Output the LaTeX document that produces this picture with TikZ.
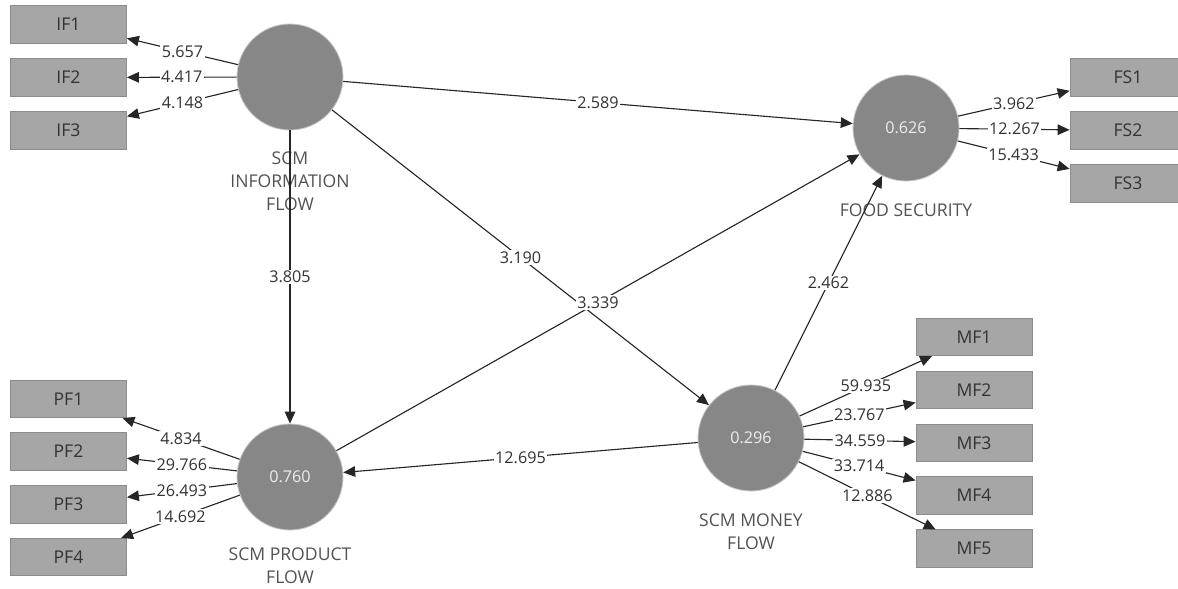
\documentclass[tikz,border=0pt]{standalone}
\usepackage{fontspec}
\setmainfont{Open Sans}
\usetikzlibrary{arrows.meta,positioning}
\definecolor{plsring}{HTML}{878787}
\definecolor{plsbox}{HTML}{A6A6A6}
\definecolor{plsedge}{HTML}{8C8C8C}
\definecolor{plsink}{HTML}{333333}
\definecolor{plsvalue}{HTML}{EDEDED}

\begin{document}
\begin{tikzpicture}[x=0.025cm, y=-0.025cm,
  font=\fontsize{11.5}{17}\selectfont,
  construct/.style={circle, fill=plsring, draw=black!22, line width=0.6pt, minimum size=2.65cm,
                    inner sep=0pt, text=plsvalue},
  indicator/.style={rectangle, fill=plsbox, draw=plsedge, line width=0.6pt, minimum width=2.9cm,
                    minimum height=0.93cm, inner sep=0pt, text=plsink, font=\fontsize{12.5}{15}\selectfont},
  cname/.style={align=center, text=plsink!85, font=\fontsize{12.5}{16.5}\selectfont},
  link/.style={draw=black!85, line width=0.8pt, -{Triangle[length=8.5pt,width=7.5pt]}},
  coef/.style={fill=white, inner sep=1pt, text=plsink}]
\useasboundingbox (0,0) rectangle (1178,589);
% constructs
\node[construct] (info)  at (290,77)  {};
\node[construct] (food)  at (906,128) {0.626};
\node[construct] (prod)  at (290,477) {0.760};
\node[construct] (money) at (751,438) {0.296};
\node[cname] at (290,181)   {SCM\\INFORMATION\\FLOW};
\node[cname] at (906,210)   {FOOD SECURITY};
\node[cname] at (290,566)   {SCM PRODUCT\\FLOW};
\node[cname] at (751,532)   {SCM MONEY\\FLOW};
% indicators
\node[indicator] (if1) at (68.5,24.5)  {IF1};
\node[indicator] (if2) at (68.5,77.5)  {IF2};
\node[indicator] (if3) at (68.5,130.5) {IF3};
\node[indicator] (fs1) at (1128,77.5)  {FS1};
\node[indicator] (fs2) at (1128,130.5) {FS2};
\node[indicator] (fs3) at (1128,183.5) {FS3};
\node[indicator] (pf1) at (68.5,399)   {PF1};
\node[indicator] (pf2) at (68.5,451.5) {PF2};
\node[indicator] (pf3) at (68.5,504.5) {PF3};
\node[indicator] (pf4) at (68.5,557)   {PF4};
\node[indicator] (mf1) at (974,337)    {MF1};
\node[indicator] (mf2) at (974,390)    {MF2};
\node[indicator] (mf3) at (974,443)    {MF3};
\node[indicator] (mf4) at (974,495.5)  {MF4};
\node[indicator] (mf5) at (974,548.5)  {MF5};
% structural paths
\draw[link] (info) -- node[coef] {2.589} (food);
\draw[link] (info) -- node[coef] {3.805} (prod);
\draw[link] (info) -- node[coef] {3.190} (money);
\draw[link] (prod) -- node[coef] {3.339} (food);
\draw[link] (money) -- node[coef] {2.462} (food);
\draw[link] (money) -- node[coef] {12.695} (prod);
% outer loadings
\draw[link] (info) -- node[coef] {5.657} (if1);
\draw[link] (info) -- node[coef] {4.417} (if2);
\draw[link] (info) -- node[coef] {4.148} (if3);
\draw[link] (food) -- node[coef] {3.962} (fs1);
\draw[link] (food) -- node[coef] {12.267} (fs2);
\draw[link] (food) -- node[coef] {15.433} (fs3);
\draw[link] (prod) -- node[coef] {4.834} (pf1);
\draw[link] (prod) -- node[coef] {29.766} (pf2);
\draw[link] (prod) -- node[coef] {26.493} (pf3);
\draw[link] (prod) -- node[coef] {14.692} (pf4);
\draw[link] (money) -- node[coef] {59.935} (mf1);
\draw[link] (money) -- node[coef] {23.767} (mf2);
\draw[link] (money) -- node[coef] {34.559} (mf3);
\draw[link] (money) -- node[coef] {33.714} (mf4);
\draw[link] (money) -- node[coef] {12.886} (mf5);
\end{tikzpicture}
\end{document}
